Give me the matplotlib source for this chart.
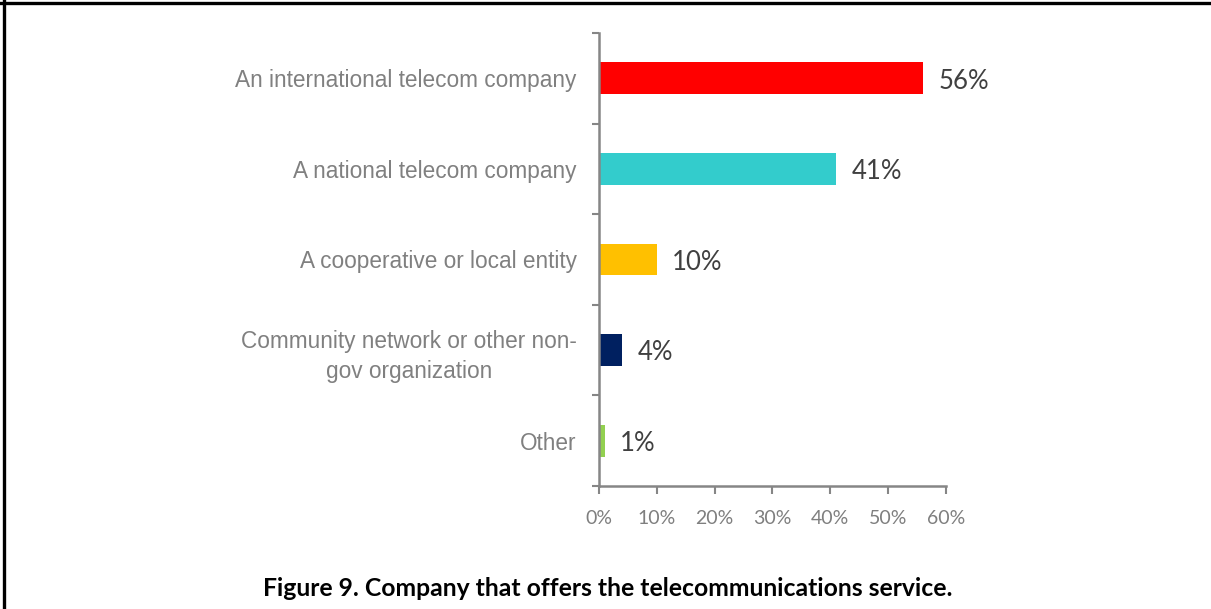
import numpy as np
import matplotlib.pyplot as plt
from matplotlib.lines import Line2D

# survey answers, top to bottom
categories = ["An international telecom company",
              "A national telecom company",
              "A cooperative or local entity",
              "Community network or other non-\ngov organization",
              "Other"]
shares = [56, 41, 10, 4, 1]
bar_colors = ["#FF0000", "#33CCCC", "#FFC000", "#002060", "#92D050"]
xticks = [0, 10, 20, 30, 40, 50, 60]

fig = plt.figure(figsize=(12.11, 6.09), dpi=100)
ax = fig.add_axes([0.4946, 0.202, 0.2866, 0.7438])

pos = np.arange(len(categories))
ax.barh(pos, shares, height=0.35, color=bar_colors)

for p, v in zip(pos, shares):
    ax.annotate(f"{v}%", (v, p), xytext=(11, -2), textcoords="offset points",
                va="center", ha="left", fontsize=18.5, color="#404040",
                family="Lato")

ax.set_xlim(0, 60)
ax.set_ylim(len(categories) - 0.5, -0.5)
ax.set_xticks(xticks)
ax.set_xticklabels([f"{t}%" for t in xticks], family="Lato",
                   fontsize=14, color="#7f7f7f")

# category ticks sit on the boundaries, labels in between
ax.set_yticks(np.arange(-0.5, len(categories)), minor=False)
ax.set_yticklabels([])
ax.set_yticks(pos, minor=True)
ax.set_yticklabels(categories, minor=True, family="Liberation Sans",
                   fontsize=16.3, color="#808080", multialignment="center",
                   linespacing=1.4)
ax.tick_params(axis="y", which="minor", length=0, pad=16)
ax.tick_params(axis="y", which="major", length=5, width=1.5, color="#868686")
ax.tick_params(axis="x", length=6, width=1.5, color="#868686", pad=11)

for side in ["top", "right"]:
    ax.spines[side].set_visible(False)
for side in ["left", "bottom"]:
    ax.spines[side].set_color("#868686")
    ax.spines[side].set_linewidth(1.8)

fig.text(0.502, 0.034, "Figure 9. Company that offers the telecommunications service.",
         ha="center", va="center", fontsize=17.8, fontweight="bold",
         family="Lato", color="black")

# frame edges
fig.add_artist(Line2D([0, 1], [1 - 2.5 / 609, 1 - 2.5 / 609], color="black", lw=2.4))
fig.add_artist(Line2D([4 / 1211, 4 / 1211], [0, 1], color="black", lw=2.4))

fig.savefig("out.png", dpi=100, facecolor="white")
